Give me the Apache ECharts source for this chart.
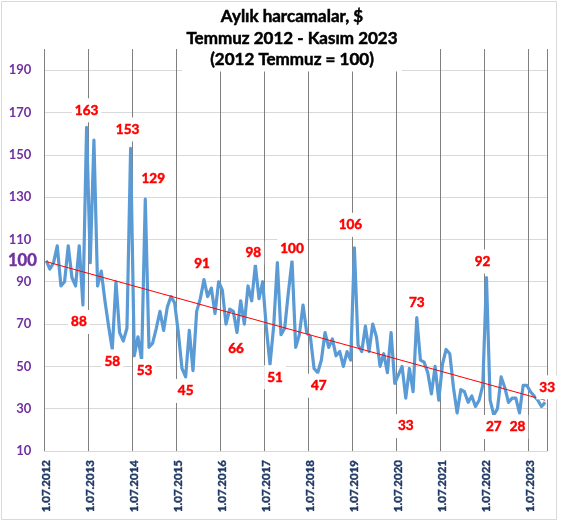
<!DOCTYPE html>
<html><head><meta charset="utf-8">
<script src="https://cdn.jsdelivr.net/npm/echarts@6/dist/echarts.min.js"></script>
<style>html,body{margin:0;padding:0;background:#fff}#c{width:561px;height:523px}</style>
</head><body><div id="c"></div>
<script>
const titleLines = ['Aylık harcamalar, $', 'Temmuz 2012 - Kasım 2023', '(2012 Temmuz = 100)'];

// monthly categories: July 2012 .. November 2023
const months = [];
for (let y = 2012, m = 7; !(y === 2023 && m === 12);) {
  months.push('1.' + String(m).padStart(2, '0') + '.' + y);
  m++; if (m > 12) { m = 1; y++; }
}

const spending = [
  100, 96, 99, 107, 88, 90, 107, 92, 88, 107, 79, 163,
  99, 157, 88, 95, 81, 69, 58, 90, 66, 62, 68, 153,
  55, 64, 53, 129, 59, 61, 68, 76, 67, 78, 83, 80,
  66, 49, 45, 67, 48, 76, 82, 91, 83, 87, 75, 90,
  86, 70, 77, 76, 66, 81, 70, 88, 81, 98, 82, 90,
  68, 51, 69, 99, 65, 68, 85, 100, 59, 65, 79, 66,
  64, 49, 47, 53, 66, 59, 63, 55, 57, 50, 57, 53,
  106, 60, 57, 69, 57, 70, 64, 50, 56, 47, 66, 42,
  46, 50, 35, 49, 38, 73, 53, 52, 47, 37, 50, 34,
  51, 58, 56, 40, 28, 39, 38, 33, 36, 31, 34, 41,
  92, 34, 27, 30, 45, 40, 33, 35, 35, 28, 41, 41,
  38, 36, 34, 31, 33
];

const yMin = 10, yMax = 200, yStep = 20;
const baseValue = 100;
const trendStart = 99.5, trendEnd = 34;

// annotations: month index they belong to and their text
const annIndex = [11, 23, 27, 10, 18, 26, 38, 43, 52, 57, 61, 67, 74, 84, 101, 98, 120, 122, 129, 136];
const annText  = ['163','153','129','88','58','53','45','91','66','98','51','100','47','106','73','33','92','27','28','33'];
// pixel offsets of each label from its point (style only)
const annOffset = [[0,-17],[-3,-19],[8,-21],[-4,17],[0,12],[3,11],[0,14],[-2,-16],[-1,16],[-2,-12],
                   [5,13],[0,-12],[1,13],[-4,-23],[0,-15],[0,28],[-4,-16],[0,12],[-2,14],[2,-15]];

const FONT = 'Lato, "Open Sans", sans-serif';

const annData = annIndex.map((idx, k) => ({
  name: annText[k],
  coord: [months[idx], spending[idx]],
  symbolSize: 0,
  label: {
    show: true, position: 'inside', offset: annOffset[k], formatter: annText[k],
    color: '#ff0000', fontWeight: 'bold', fontSize: 13.5, fontFamily: FONT,
    textBorderColor: '#ff0000', textBorderWidth: 0.5,
    backgroundColor: '#ffffff', padding: [5, 3]
  }
}));
annData.push({
  name: 'base',
  coord: [months[0], baseValue],
  symbolSize: 0,
  label: {
    show: true, position: 'left', distance: 9.5, formatter: String(baseValue),
    color: '#70309f', fontWeight: 'bold', fontSize: 16.5, fontFamily: FONT,
    textBorderColor: '#70309f', textBorderWidth: 0.5
  }
});

const chart = echarts.init(document.getElementById('c'), null, {renderer: 'canvas'});
chart.setOption({
  animation: false,
  backgroundColor: '#ffffff',
  graphic: [{
    type: 'rect', shape: {x: 1.5, y: 1.5, width: 555, height: 518},
    style: {fill: 'none', stroke: '#d9d9d9', lineWidth: 1}, z: -1
  }],
  title: {
    text: titleLines.join('\n'),
    left: 288, top: 5, textAlign: 'center',
    backgroundColor: '#ffffff', padding: [1, 4],
    textStyle: {
      fontFamily: FONT, fontWeight: 'bold', fontSize: 17, lineHeight: 21.5, color: '#000000',
      textBorderColor: '#000000', textBorderWidth: 0.5
    }
  },
  grid: {left: 44.4, right: 14, top: 49, bottom: 72},
  xAxis: {
    type: 'category', data: months, boundaryGap: true,
    axisLine: {show: true, lineStyle: {color: '#d9d9d9', width: 1}},
    axisTick: {show: false},
    axisLabel: {
      interval: 11, rotate: 90, margin: 9,
      fontFamily: FONT, fontWeight: 'bold', fontSize: 11.5, color: '#1f3864',
      textBorderColor: '#1f3864', textBorderWidth: 0.4
    },
    splitLine: {show: true, interval: 11, lineStyle: {color: '#7f7f7f', width: 1}}
  },
  yAxis: {
    type: 'value', min: yMin, max: yMax, interval: yStep,
    axisLine: {show: false}, axisTick: {show: false},
    axisLabel: {
      showMaxLabel: false, margin: 13,
      fontFamily: FONT, fontWeight: 'bold', fontSize: 13, color: '#7030a0'
    },
    splitLine: {show: true, showMaxLine: false, lineStyle: {color: '#d9d9d9', width: 1}}
  },
  series: [{
    type: 'line', data: spending, symbol: 'none',
    lineStyle: {color: '#5b9bd5', width: 3.2, join: 'round'},
    itemStyle: {color: '#5b9bd5'},
    markLine: {
      silent: true, symbol: ['none', 'none'], label: {show: false},
      lineStyle: {color: '#ff0000', width: 1, type: 'solid'},
      data: [[{coord: [months[0], trendStart]}, {coord: [months[months.length - 1], trendEnd]}]]
    },
    markPoint: {silent: true, symbol: 'circle', symbolSize: 0, data: annData}
  }]
});
</script></body></html>
